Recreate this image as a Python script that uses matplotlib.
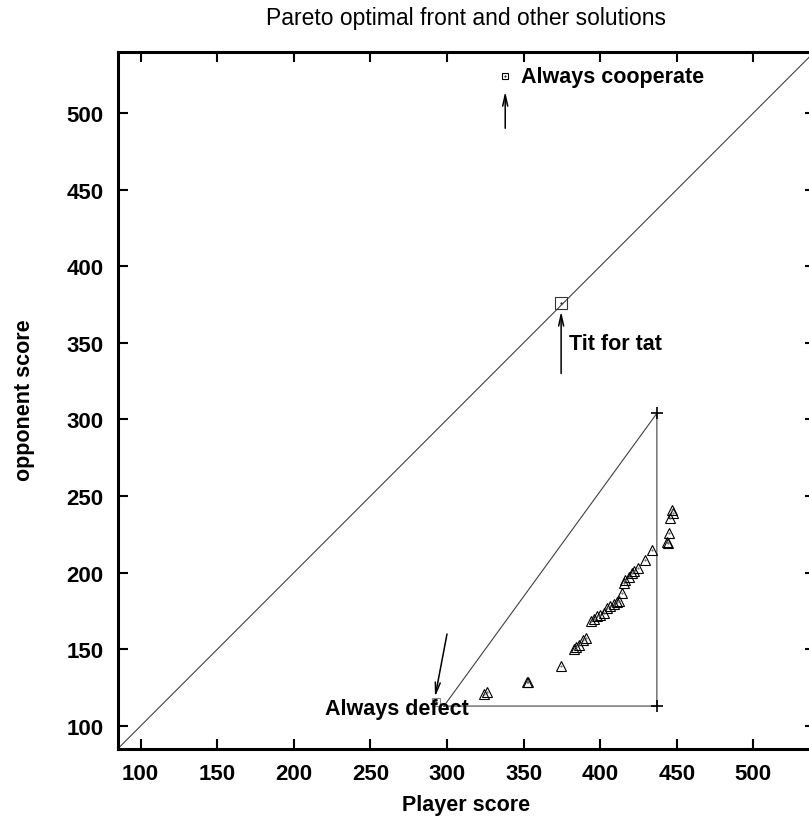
import numpy as np
import matplotlib.pyplot as plt

plt.rcParams['font.family'] = ['Liberation Sans', 'DejaVu Sans']

# Pareto front solutions (player score, opponent score)
front_player = [324.0, 326.2, 352.3, 352.7, 374.5, 383.1, 384.3, 385.9, 388.8, 391.0,
                394.2, 396.2, 397.9, 400.1, 402.3, 404.5, 406.6, 408.8, 411.0, 412.1,
                414.3, 415.4, 416.4, 418.6, 420.6, 422.3, 424.7, 429.0, 434.1, 443.7,
                444.3, 445.2, 445.5, 446.7, 447.6]
front_opponent = [121.1, 122.2, 128.6, 129.0, 139.0, 150.5, 151.6, 153.1, 156.0, 157.1,
                  168.4, 170.1, 171.6, 172.7, 174.0, 176.7, 178.2, 179.3, 180.6, 181.4,
                  186.9, 193.0, 195.2, 196.9, 199.8, 201.3, 203.2, 208.2, 214.8, 220.3,
                  219.2, 225.7, 235.5, 240.8, 239.0]

# named strategies
strategy_names = ['Always cooperate', 'Tit for tat', 'Always defect']
strategy_player = [338, 374.5, 293]
strategy_opponent = [524, 376, 115.5]

# triangle region
tri_player = [298, 437, 437, 298]
tri_opponent = [113, 304, 113, 113]

lims = [85, 540]
ticks = np.arange(100, 501, 50)

fig = plt.figure(figsize=(8.09, 8.2), dpi=100)
ax = fig.add_axes([0.1454, 0.0854, 0.8616, 0.8504])
ax.set_xlim(lims)
ax.set_ylim(lims)

# diagonal y = x
ax.plot(lims, lims, color='#404040', lw=0.8)

# triangle
ax.plot(tri_player, tri_opponent, color='#404040', lw=0.8)
ax.plot(tri_player[1:3], tri_opponent[1:3], ls='none', marker='+', ms=8,
        mew=1.2, color='black')

# pareto front
ax.plot(front_player, front_opponent, ls='none', marker='^', ms=7.5,
        mfc='none', mec='black', mew=0.8)
ax.plot(front_player, front_opponent, ls='none', marker='.', ms=1, color='#555555')

# strategies
sq_sizes = [5, 8.5, 6]
sq_colors = ['black', '#333333', '#888888']
for px, py, s, c in zip(strategy_player, strategy_opponent, sq_sizes, sq_colors):
    ax.plot(px, py, ls='none', marker='s', ms=s, mfc='none', mec=c, mew=0.8)
    ax.plot(px, py, ls='none', marker='.', ms=1, color='black')

arrow = dict(arrowstyle='->,head_length=0.8,head_width=0.18', color='black', lw=1.1,
             shrinkA=0, shrinkB=0)
ax.annotate('', xy=(338, 514), xytext=(338, 490), arrowprops=arrow)
ax.annotate('', xy=(374.5, 370.5), xytext=(374.5, 330), arrowprops=arrow)
ax.annotate('', xy=(292.2, 119), xytext=(300, 160), arrowprops=arrow)

fs = 15.5
ax.text(348.3, 524, strategy_names[0], fontsize=fs, fontweight='bold',
        ha='left', va='center')
ax.text(379.6, 349.7, strategy_names[1], fontsize=fs, fontweight='bold',
        ha='left', va='center')
ax.text(220.5, 111.3, strategy_names[2], fontsize=fs, fontweight='bold',
        ha='left', va='center')

ax.set_xticks(ticks)
ax.set_yticks(ticks)
ax.tick_params(direction='in', length=7.2, width=1.5, labelsize=16,
               top=True, right=True, pad=10)
for lab in ax.get_xticklabels() + ax.get_yticklabels():
    lab.set_fontweight('bold')
for side in ['left', 'bottom', 'top', 'right']:
    ax.spines[side].set_linewidth(2.2)

fig.text(466 / 809, 1 - 18 / 820, 'Pareto optimal front and other solutions',
         fontsize=16.5, ha='center', va='center')
fig.text(466 / 809, 1 - 806 / 820, 'Player score', fontsize=fs, fontweight='bold',
         ha='center', va='center')
fig.text(25 / 809, 1 - 400 / 820, 'opponent score', fontsize=fs, fontweight='bold',
         ha='center', va='center', rotation=90)

fig.savefig('out.png', dpi=100)
